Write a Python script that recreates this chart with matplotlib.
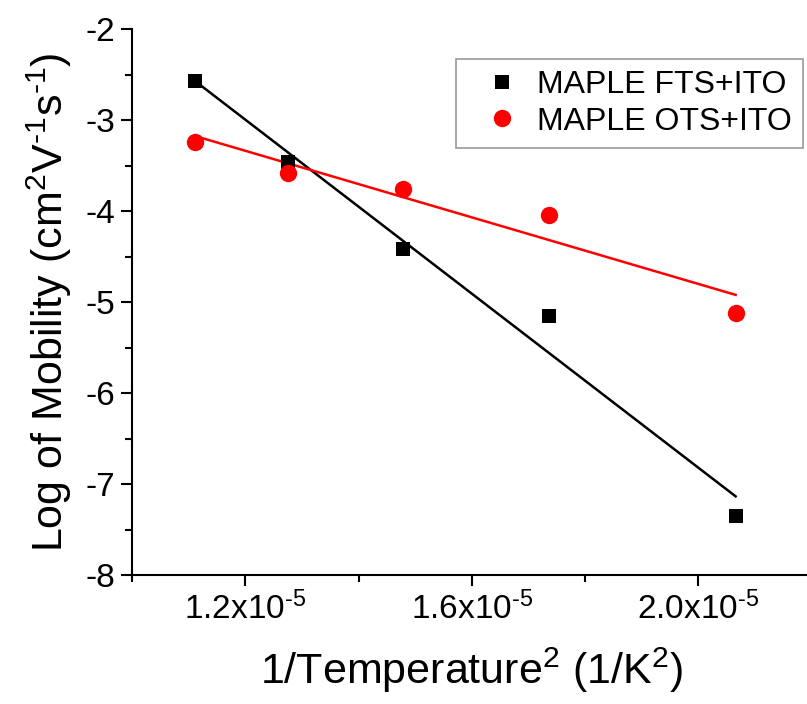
import numpy as np
import matplotlib
matplotlib.use("Agg")
import matplotlib.pyplot as plt
from matplotlib.ticker import MultipleLocator, FixedLocator

plt.rcParams['font.family'] = ['Liberation Sans', 'DejaVu Sans']
plt.rcParams['mathtext.default'] = 'regular'

# Data
inv_T2 = [1.111e-5, 1.2755e-5, 1.479e-5, 1.736e-5, 2.066e-5]
fts_logmu = [-2.57, -3.46, -4.42, -5.15, -7.35]
ots_logmu = [-3.24, -3.58, -3.76, -4.04, -5.12]
series_names = ["MAPLE FTS+ITO", "MAPLE OTS+ITO"]
xtick_vals = [1.2e-5, 1.6e-5, 2.0e-5]
xtick_labels = ["1.2x10$^{\u20105}$", "1.6x10$^{\u20105}$", "2.0x10$^{\u20105}$"]
ytick_vals = [-8, -7, -6, -5, -4, -3, -2]

W, H = 807, 704
fig = plt.figure(figsize=(W / 100, H / 100), dpi=100)
left_px, bottom_px, top_px = 132, 575, 29
xmin, xmax = 1.0e-5, 2.2e-5
px_per_unit = 566.25 / 1e-5
width_px = (xmax - xmin) * px_per_unit
ax = fig.add_axes([left_px / W, 1 - bottom_px / H, width_px / W, (bottom_px - top_px) / H])

x = np.array(inv_T2)
for yvals, color, marker, ms, name in [
    (fts_logmu, 'black', 's', 10.5, series_names[0]),
    (ots_logmu, '#ff0000', 'o', 12.5, series_names[1]),
]:
    y = np.array(yvals)
    ax.plot(x, y, linestyle='none', marker=marker, color=color, markersize=ms,
            markeredgewidth=0, label=name, zorder=3)
    p = np.polyfit(x, y, 1)
    ax.plot(x[[0, -1]], np.polyval(p, x[[0, -1]]), color=color, linewidth=1.8, zorder=2)

ax.set_xlim(xmin, xmax)
ax.set_ylim(-8, -2)
ax.set_xticks(xtick_vals)
ax.set_xticklabels(xtick_labels)
ax.xaxis.set_minor_locator(FixedLocator([1.0e-5, 1.4e-5, 1.8e-5, 2.2e-5]))
ax.set_yticks(ytick_vals)
ax.set_yticklabels([str(v) for v in ytick_vals])
ax.yaxis.set_minor_locator(MultipleLocator(0.5))

for s in ['top', 'right']:
    ax.spines[s].set_visible(False)
for s in ['left', 'bottom']:
    ax.spines[s].set_linewidth(1.5)

ax.tick_params(which='major', direction='out', length=8, width=1.5, labelsize=24, pad=4)
ax.tick_params(which='minor', direction='out', length=5, width=1.5)

ax.set_xlabel("1/Temperature$^{2}$ (1/K$^{2}$)", fontsize=31, labelpad=14)
ax.set_ylabel("Log of Mobility (cm$^{2}$V$^{\u20101}$s$^{\u20101}$)", fontsize=31, labelpad=8)

leg = fig.legend(loc='upper left', bbox_to_anchor=(456 / W, 1 - 59 / H),
                 bbox_transform=fig.transFigure, fontsize=23, frameon=True,
                 fancybox=False, borderaxespad=0, handletextpad=0.0, handlelength=2.2,
                 borderpad=0.35, labelspacing=0.2)
leg.get_frame().set_edgecolor('#808080')
leg.get_frame().set_linewidth(1.2)

fig.savefig("out.png", dpi=100)
